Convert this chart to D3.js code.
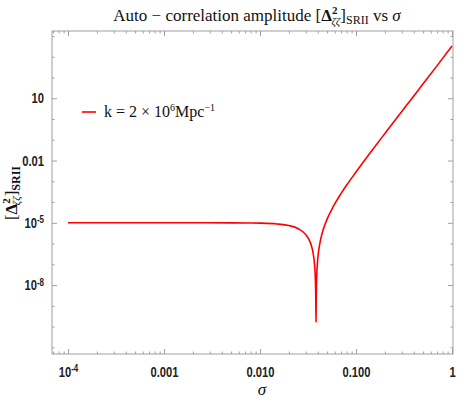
<!DOCTYPE html>
<html>
<head>
<meta charset="utf-8">
<script src="https://cdn.jsdelivr.net/npm/d3@7"></script>
<style>
  body { margin: 0; background: #fff; }
  svg { display: block; }
  .tick text { font-family: "Liberation Sans", Arial, sans-serif; font-weight: bold; font-size: 14px; fill: #222; }
  .serif { font-family: "Liberation Serif", "DejaVu Serif", serif; }
</style>
</head>
<body>
<div id="chart"></div>
<script>
// sigma values and amplitude
var sigma = [0.0001, 0.0003, 0.001, 0.003, 0.005, 0.008, 0.01, 0.015, 0.02, 0.025, 0.03, 0.033,
  0.035, 0.036, 0.0365, 0.037, 0.0375, 0.0378, 0.038, 0.0381, 0.03831, 0.0385, 0.0386, 0.0388,
  0.039, 0.0395, 0.04, 0.041, 0.042, 0.043, 0.045, 0.047, 0.05, 0.055, 0.06, 0.07, 0.08, 0.1,
  0.15, 0.2, 0.3, 0.4, 0.5, 0.7, 1];
var amplitude = [1e-5, 1e-5, 1e-5, 1e-5, 9.96e-6, 9.82e-6, 9.65e-6, 8.8e-6, 7.36e-6, 5.2e-6, 2.7e-6, 1.3e-6,
  5.6e-7, 2.87e-7, 1.8e-7, 9.7e-8, 3.8e-8, 1.49e-8, 5.4e-9, 2.4e-9, 1.7e-10, 2.5e-9, 5.6e-9, 1.58e-8,
  3.1e-8, 9.4e-8, 1.94e-7, 5.1e-7, 1.0e-6, 1.72e-6, 3.9e-6, 7.2e-6, 1.5e-5, 3.8e-5, 8.1e-5, 2.6e-4, 6.6e-4, 2.8e-3,
  0.035, 0.2, 2.3, 13, 49.4, 373, 3300];

var xMajor = [1e-4, 1e-3, 1e-2, 1e-1, 1];
var xMajorLabels = [["10", "-4"], ["0.001"], ["0.010"], ["0.100"], ["1"]];
var yMajor = [1e-8, 1e-5, 1e-2, 10];
var yMajorLabels = [["10", "-8"], ["10", "-5"], ["0.01"], ["10"]];

var width = 463, height = 409;
var plotLeft = 52, plotRight = 453, plotTop = 31, plotBottom = 354;

var svg = d3.select("#chart").append("svg")
  .attr("width", width)
  .attr("height", height);

var x = d3.scaleLog()
  .domain([Math.pow(10, -4 - 16 / 96), Math.pow(10, 1 / 96)])
  .range([plotLeft, plotRight]);
var y = d3.scaleLog()
  .domain([Math.pow(10, -11.32), Math.pow(10, 4.24)])
  .range([plotBottom, plotTop]);

// minor ticks
var xMinor = [];
for (var e = -5; e <= 0; e++) {
  for (var m = 2; m <= 9; m++) {
    var v = m * Math.pow(10, e);
    if (v >= x.domain()[0] && v <= x.domain()[1]) xMinor.push(v);
  }
}
var yMinor = [];
for (var e2 = -11; e2 <= 4; e2++) {
  if ([-8, -5, -2, 1].indexOf(e2) < 0) yMinor.push(Math.pow(10, e2));
}

var frameColor = "#a0a0a0";

function styleAxis(g) {
  g.select(".domain").remove();
  g.selectAll(".tick line").attr("stroke", frameColor);
}

// condensed bold labels with superscript exponents
function supLabels(g, labels) {
  g.selectAll(".tick text").each(function(d, i) {
    var t = d3.select(this);
    t.text(null);
    var lab = labels[i];
    t.attr("transform", "scale(0.8,1)");
    t.attr("x", (+t.attr("x") || 0) / 0.8);
    t.append("tspan").text(lab[0]);
    if (lab.length > 1) {
      t.append("tspan").attr("dy", "-0.45em").style("font-size", "10px").text(lab[1]);
    }
  });
}

// bottom axis
svg.append("g").attr("transform", "translate(0," + plotBottom + ")")
  .call(d3.axisBottom(x).tickValues(xMinor).tickSize(-2.5).tickFormat(""))
  .call(styleAxis);
svg.append("g").attr("transform", "translate(0," + plotBottom + ")")
  .call(d3.axisBottom(x).tickValues(xMajor).tickSize(-5).tickPadding(13))
  .call(styleAxis)
  .call(function(g) { supLabels(g, xMajorLabels); });
// top axis
svg.append("g").attr("transform", "translate(0," + plotTop + ")")
  .call(d3.axisTop(x).tickValues(xMinor).tickSize(-2.5).tickFormat(""))
  .call(styleAxis);
svg.append("g").attr("transform", "translate(0," + plotTop + ")")
  .call(d3.axisTop(x).tickValues(xMajor).tickSize(-5).tickFormat(""))
  .call(styleAxis);
// left axis
svg.append("g").attr("transform", "translate(" + plotLeft + ",0)")
  .call(d3.axisLeft(y).tickValues(yMinor).tickSize(-2.5).tickFormat(""))
  .call(styleAxis);
svg.append("g").attr("transform", "translate(" + plotLeft + ",0)")
  .call(d3.axisLeft(y).tickValues(yMajor).tickSize(-5).tickPadding(8))
  .call(styleAxis)
  .call(function(g) { supLabels(g, yMajorLabels); });
// right axis
svg.append("g").attr("transform", "translate(" + plotRight + ",0)")
  .call(d3.axisRight(y).tickValues(yMinor).tickSize(-2.5).tickFormat(""))
  .call(styleAxis);
svg.append("g").attr("transform", "translate(" + plotRight + ",0)")
  .call(d3.axisRight(y).tickValues(yMajor).tickSize(-5).tickFormat(""))
  .call(styleAxis);

// frame
svg.append("rect")
  .attr("x", plotLeft).attr("y", plotTop)
  .attr("width", plotRight - plotLeft).attr("height", plotBottom - plotTop)
  .attr("fill", "none").attr("stroke", frameColor).attr("stroke-width", 1);

// curve
var data = sigma.map(function(s, i) { return [s, amplitude[i]]; });
var line = d3.line()
  .x(function(d) { return x(d[0]); })
  .y(function(d) { return y(d[1]); })
  .curve(d3.curveMonotoneX);
svg.append("path")
  .datum(data)
  .attr("d", line)
  .attr("fill", "none")
  .attr("stroke", "#ff0000")
  .attr("stroke-width", 1.6);

// title
var title = svg.append("text").attr("class", "serif")
  .attr("x", 257).attr("y", 21)
  .attr("text-anchor", "middle")
  .style("font-size", "17px").attr("fill", "#111");
title.append("tspan").text("Auto \u2212 correlation amplitude [");
title.append("tspan").style("font-weight", "bold").text("\u0394");
title.append("tspan").attr("dy", -7).style("font-size", "11px").style("font-weight", "bold").text("2");
title.append("tspan").attr("dx", -6).attr("dy", 11).style("font-size", "11px").style("font-style", "italic").text("\u03b6\u03b6");
title.append("tspan").attr("dy", -4).text("]");
title.append("tspan").attr("dy", 3).style("font-size", "12px").text("SRII");
title.append("tspan").attr("dy", -3).text(" vs ");
title.append("tspan").style("font-style", "italic").text("\u03c3");

// y label
var ylab = svg.append("text").attr("class", "serif")
  .attr("transform", "translate(17,193) rotate(-90)")
  .attr("text-anchor", "middle")
  .style("font-size", "17px").attr("fill", "#111");
ylab.append("tspan").text("[");
ylab.append("tspan").style("font-weight", "bold").text("\u0394");
ylab.append("tspan").attr("dy", -7).style("font-size", "11px").style("font-weight", "bold").text("2");
ylab.append("tspan").attr("dx", -7).attr("dy", 10).style("font-size", "11px").style("font-style", "italic").text("\u03b6\u03b6");
ylab.append("tspan").attr("dy", -3).text("]");
ylab.append("tspan").attr("dy", 3).style("font-size", "12px").style("font-weight", "bold").text("SRII");

// x label
svg.append("text").attr("class", "serif")
  .attr("x", 262).attr("y", 395)
  .attr("text-anchor", "middle")
  .style("font-size", "17px").style("font-style", "italic").attr("fill", "#111")
  .text("\u03c3");

// legend
svg.append("line")
  .attr("x1", 82).attr("x2", 96).attr("y1", 112).attr("y2", 112)
  .attr("stroke", "#ff0000").attr("stroke-width", 1.6);
var leg = svg.append("text").attr("class", "serif")
  .attr("x", 104).attr("y", 117)
  .style("font-size", "16px").attr("fill", "#111");
leg.append("tspan").text("k = 2 \u00d7 10");
leg.append("tspan").attr("dy", -6).style("font-size", "10px").text("6");
leg.append("tspan").attr("dy", 6).text("Mpc");
leg.append("tspan").attr("dy", -6).style("font-size", "10px").text("\u22121");
</script>
</body>
</html>
